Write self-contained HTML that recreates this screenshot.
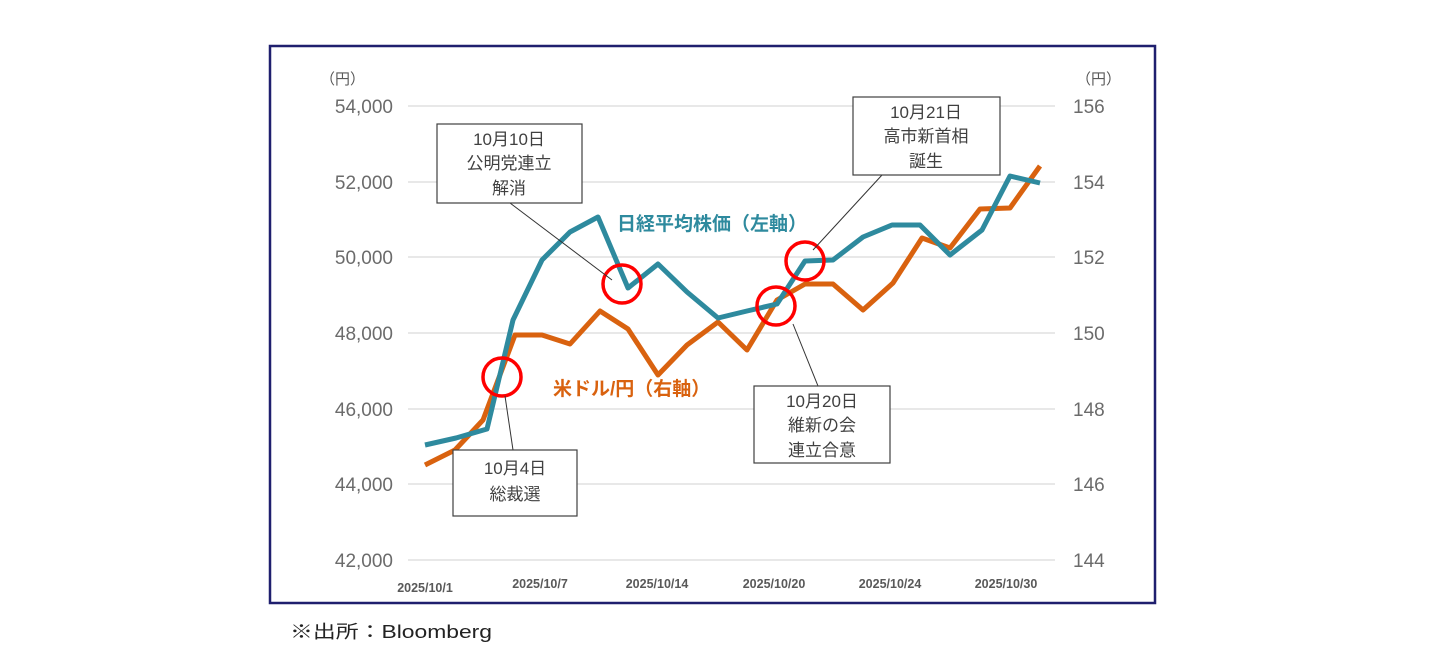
<!DOCTYPE html>
<html><head><meta charset="utf-8"><style>
body{margin:0;background:#fff;width:1441px;height:663px;overflow:hidden;font-family:"Liberation Sans","Noto Sans CJK JP",sans-serif;}
</style></head><body>
<svg width="1441" height="663" viewBox="0 0 1441 663" xmlns="http://www.w3.org/2000/svg" style="font-family:'Liberation Sans','Noto Sans CJK JP',sans-serif">
<rect x="270" y="46" width="885" height="557" fill="#fff" stroke="#1f1f6e" stroke-width="2.5"/>
<g stroke="#d9d9d9" stroke-width="1.3">
<line x1="408" x2="1055" y1="106" y2="106"/><line x1="408" x2="1055" y1="182" y2="182"/>
<line x1="408" x2="1055" y1="257" y2="257"/><line x1="408" x2="1055" y1="333" y2="333"/>
<line x1="408" x2="1055" y1="409" y2="409"/><line x1="408" x2="1055" y1="484" y2="484"/>
<line x1="408" x2="1055" y1="560" y2="560"/></g>
<g fill="#6b6b6b" font-size="19" text-anchor="end">
<text x="393" y="113">54,000</text><text x="393" y="189">52,000</text><text x="393" y="264">50,000</text>
<text x="393" y="340">48,000</text><text x="393" y="416">46,000</text><text x="393" y="491">44,000</text><text x="393" y="567">42,000</text></g>
<g fill="#6b6b6b" font-size="19">
<text x="1073" y="113">156</text><text x="1073" y="189">154</text><text x="1073" y="264">152</text>
<text x="1073" y="340">150</text><text x="1073" y="416">148</text><text x="1073" y="491">146</text><text x="1073" y="567">144</text></g>
<text x="320" y="84" font-size="15" fill="#595959">（円）</text>
<text x="1076" y="84" font-size="15" fill="#595959">（円）</text>
<g fill="#595959" font-size="12.5" font-weight="bold" text-anchor="middle">
<text x="425" y="592">2025/10/1</text><text x="540" y="588">2025/10/7</text><text x="657" y="588">2025/10/14</text>
<text x="774" y="588">2025/10/20</text><text x="890" y="588">2025/10/24</text><text x="1006" y="588">2025/10/30</text></g>
<polyline fill="none" stroke="#d9620f" stroke-width="5" stroke-linejoin="round" points="425,465 455,450 483,420 515,335 542,335 570,344 600,311 628,329 658,375 687,345 718,322 747,350 777,300 805,284 833,284 863,310 893,283 922,238 950,248 980,209 1010,208 1040,166"/>
<polyline fill="none" stroke="#2e8a9e" stroke-width="5" stroke-linejoin="round" points="425,445 456,438 487,429 513,320 542,260 570,232 598,217 628,288 658,264 687,292 718,318 747,311 777,304 805,261 833,260 863,237 892,225 920,225 950,255 982,230 1010,176 1040,183"/>
<g fill="none" stroke="#ff0000" stroke-width="3.5">
<circle cx="502" cy="377" r="19"/><circle cx="622" cy="284" r="19"/><circle cx="776" cy="306" r="19"/><circle cx="805" cy="261" r="19"/></g>
<g stroke="#333" stroke-width="1">
<line x1="510" y1="203" x2="612" y2="280"/><line x1="882" y1="175" x2="813" y2="250"/>
<line x1="793" y1="324" x2="818" y2="386"/><line x1="505" y1="396" x2="513" y2="450"/></g>
<g fill="#fff" stroke="#404040" stroke-width="1.2">
<rect x="437" y="124" width="145" height="79"/><rect x="853" y="97" width="147" height="78"/>
<rect x="754" y="386" width="136" height="77"/><rect x="453" y="450" width="124" height="66"/></g>
<g fill="#404040" font-size="17" text-anchor="middle">
<text x="509" y="145">10月10日</text><text x="509" y="169">公明党連立</text><text x="509" y="194">解消</text>
<text x="926" y="118">10月21日</text><text x="926" y="142">高市新首相</text><text x="926" y="167">誕生</text>
<text x="822" y="407">10月20日</text><text x="822" y="431">維新の会</text><text x="822" y="456">連立合意</text>
<text x="515" y="474">10月4日</text><text x="515" y="500">総裁選</text></g>
<text x="617" y="230" font-size="19" font-weight="bold" fill="#2e8a9e">日経平均株価（左軸）</text>
<text x="553" y="395" font-size="19" font-weight="bold" fill="#d9620f">米ドル/円（右軸）</text>
<text x="290" y="638" font-size="18" fill="#222" textLength="202" lengthAdjust="spacingAndGlyphs">※出所：Bloomberg</text>
</svg>
</body></html>
